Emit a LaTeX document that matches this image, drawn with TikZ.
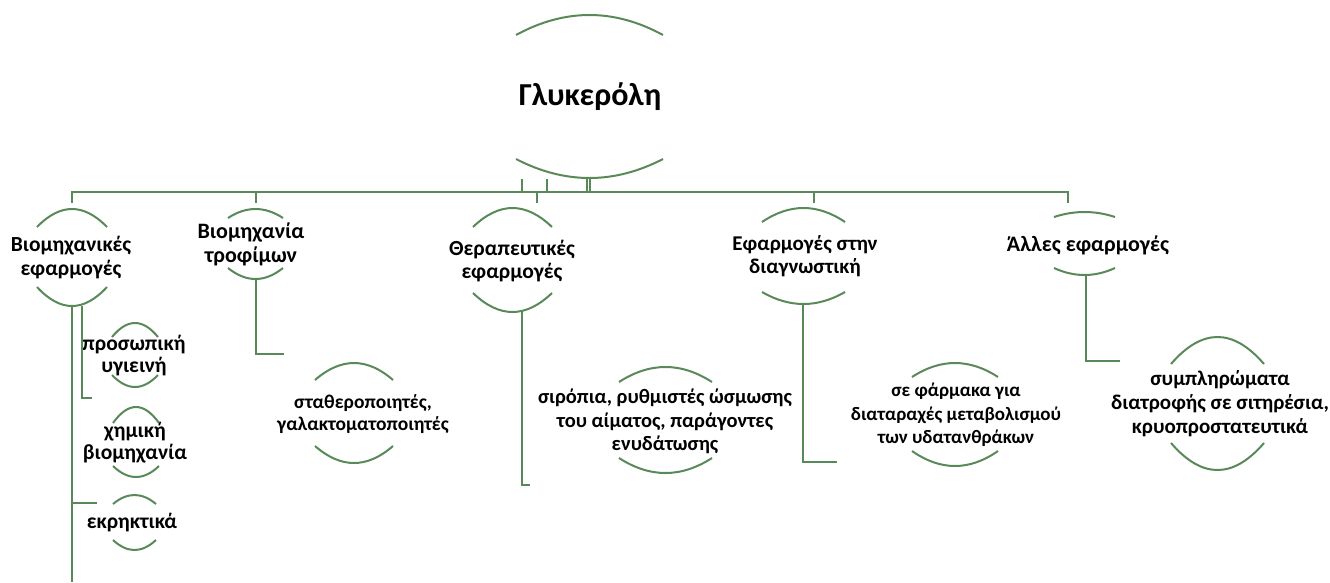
\documentclass[tikz,border=0pt]{standalone}
\usepackage{fontspec}
\setmainfont{Carlito}
\definecolor{grn}{RGB}{89,137,88}
\newcommand{\greenarc}[4]{% x1, x2, y at ends, y at apex
  \draw[ln] (#1,#3) .. controls ({#1+(#2-#1)/3},{#3+4*(#4-#3)/3}) and ({#2-(#2-#1)/3},{#3+4*(#4-#3)/3}) .. (#2,#3);}
\tikzset{
  ln/.style={draw=grn, line width=2pt},
  cn/.style={draw=grn, line width=2pt},
  lbl/.style 2 args={font=\bfseries\fontsize{#1}{#2}\selectfont, align=center, inner sep=0pt, text=black},
  ttl/.style={font=\bfseries\fontsize{32}{38}\selectfont, align=center, inner sep=0pt, text=black}
}
\begin{document}
\begin{tikzpicture}[x=1pt,y=-1pt]
\useasboundingbox (0,0) rectangle (1330,582);
% root
\node[ttl] (root) at (590,97) {Γλυκερόλη};
\greenarc{516}{663}{35}{15}
\greenarc{516}{663}{159}{178}
% children
\node[lbl={21.5}{24.5}] (c1) at (71,257.5) {Βιομηχανικές\\εφαρμογές};
\greenarc{37}{107}{227}{209}
\greenarc{37}{107}{287}{306}
\node[lbl={22}{23.5}] (c2) at (251,244.5) {Βιομηχανία\\τροφίμων};
\greenarc{228}{283}{218}{209}
\greenarc{228}{283}{268}{279}
\node[lbl={21.5}{22.5}] (c3) at (512,261) {Θεραπευτικές\\εφαρμογές};
\greenarc{473}{552}{227}{208}
\greenarc{473}{552}{293}{312}
\node[lbl={21}{23}] (c4) at (805,256.5) {Εφαρμογές στην\\διαγνωστική};
\greenarc{762}{845}{222}{208}
\greenarc{762}{845}{292}{304}
\node[lbl={22}{24}] (c5) at (1088,245) {Άλλες εφαρμογές};
\greenarc{1054}{1115}{217}{212}
\greenarc{1054}{1115}{268}{275}
% sub nodes
\node[lbl={21.5}{22}] (s1) at (134,356) {προσωπική\\υγιεινή};
\greenarc{112}{158}{337}{323}
\greenarc{112}{158}{375}{387}
\node[lbl={21.5}{21.5}] (s2) at (135,442.5) {χημική\\βιομηχανία};
\greenarc{113}{159}{423}{407}
\greenarc{113}{159}{466}{477}
\node[lbl={21.5}{22}] (s3) at (132,523) {εκρηκτικά};
\greenarc{113}{156}{504}{495}
\greenarc{113}{156}{540}{550}
\node[lbl={19.5}{22}] (g2) at (363,414) {σταθεροποιητές,\\γαλακτοματοποιητές};
\greenarc{315}{393}{380}{363}
\greenarc{315}{393}{446}{463}
\node[lbl={20.5}{23.5}] (g3) at (665,421.5) {σιρόπια, ρυθμιστές ώσμωσης\\του αίματος, παράγοντες\\ενυδάτωσης};
\greenarc{619}{712}{382}{367}
\greenarc{619}{712}{458}{473}
\node[lbl={19}{23.5}] (g4) at (956,415) {σε φάρμακα για\\διαταραχές μεταβολισμού\\των υδατανθράκων};
\greenarc{912}{998}{377}{363}
\greenarc{912}{998}{451}{466}
\node[lbl={21}{24}] (g5) at (1220,404) {συμπληρώματα\\διατροφής σε σιτηρέσια,\\κρυοπροστατευτικά};
\greenarc{1171}{1264}{364}{337}
\greenarc{1171}{1264}{443}{470}
% connector points
\coordinate (d1) at (71.5,203);
\coordinate (b1) at (71.5,191.5);
\coordinate (d5) at (1068,203);
\coordinate (b5) at (1068,191.5);
\coordinate (d2) at (256,203);
\coordinate (d3) at (537,203);
\coordinate (d4) at (814,203);
\coordinate (t1) at (522,179);
\coordinate (t2) at (547,179);
\coordinate (t3) at (586.5,178);
\coordinate (t4) at (589.5,178);
\coordinate (c1b) at (71.5,306);
\coordinate (c1c) at (81.5,306);
\coordinate (e1) at (71.5,582);
\coordinate (h1) at (92,398);
\coordinate (br1) at (71.5,503);
\coordinate (h2) at (97,503);
\coordinate (c2b) at (256,279);
\coordinate (h3) at (284,354);
\coordinate (c3b) at (522,310);
\coordinate (h4) at (530,485);
\coordinate (c4b) at (802.5,304);
\coordinate (h5) at (837,462);
\coordinate (c5b) at (1085.5,275);
\coordinate (h6) at (1120,360.5);
% connectors
\draw[cn] (d1) -- (b1) -- (b5) -- (d5);
\draw[cn] (d2) -- (d2 |- b1);
\draw[cn] (d3) -- (d3 |- b1);
\draw[cn] (d4) -- (d4 |- b1);
\draw[cn] (t1) -- (t1 |- b1);
\draw[cn] (t2) -- (t2 |- b1);
\draw[cn] (t3) -- (t3 |- b1);
\draw[cn] (t4) -- (t4 |- b1);
\draw[cn] (c1b) -- (e1);
\draw[cn] (c1c) |- (h1);
\draw[cn] (br1) -- (h2);
\draw[cn] (c2b) |- (h3);
\draw[cn] (c3b) |- (h4);
\draw[cn] (c4b) |- (h5);
\draw[cn] (c5b) |- (h6);
\end{tikzpicture}
\end{document}
